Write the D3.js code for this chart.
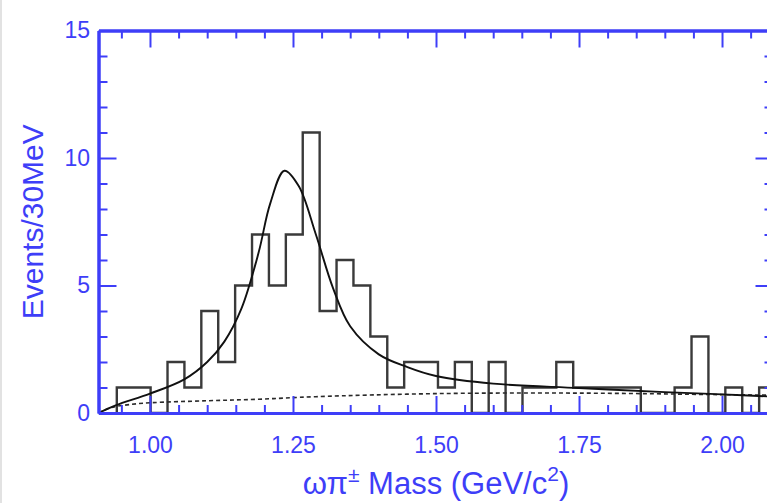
<!DOCTYPE html>
<html>
<head>
<meta charset="utf-8">
<script src="https://cdn.jsdelivr.net/npm/d3@7"></script>
<style>
body { margin: 0; background: #fff; }
.axis path, .axis line { stroke: #3e3ef8; }
.axis text { fill: #3e3ef8; font-family: "Liberation Sans", Arial, sans-serif; font-size: 23px; }
.hist { fill: none; stroke: #3a3a3a; stroke-width: 2.4; }
.fit { fill: none; stroke: #111; stroke-width: 1.9; }
.bkg { fill: none; stroke: #2a2a2a; stroke-width: 1.6; stroke-dasharray: 4 3; }
.title { fill: #3e3ef8; font-family: "Liberation Sans", Arial, sans-serif; }
</style>
</head>
<body>
<script>
// histogram: counts per 30 MeV bin, first bin starts at binStart (GeV)
var binStart = 0.942;
var binWidth = 0.02955;
var counts = [1, 1, 0, 2, 1, 4, 2, 5, 7, 5, 7, 11, 4, 6, 5, 3, 1, 2, 2, 1,
              2, 0, 2, 0, 1, 1, 2, 1, 1, 1, 1, 0, 0, 1, 3, 0, 1, 0, 1];

// fit curve (mass, events)
var fitMass   = [0.91, 0.94, 1.00, 1.06, 1.10, 1.13, 1.16, 1.19, 1.21, 1.235, 1.26, 1.29, 1.32, 1.35, 1.40, 1.45, 1.50, 1.60, 1.75, 1.90, 2.00, 2.09];
var fitEvents = [0.0, 0.3, 0.76, 1.32, 2.0, 2.8, 4.1, 6.3, 8.2, 9.5, 8.9, 7.0, 4.9, 3.4, 2.3, 1.8, 1.45, 1.15, 0.98, 0.82, 0.73, 0.64];

// background (dashed)
var bkgMass   = [0.91, 0.93, 0.96, 1.00, 1.10, 1.19, 1.29, 1.50, 1.75, 2.00, 2.09];
var bkgEvents = [0.0, 0.2, 0.32, 0.4, 0.48, 0.54, 0.64, 0.76, 0.78, 0.72, 0.70];

var xMajor = [1.00, 1.25, 1.50, 1.75, 2.00];
var xMinor = [0.95, 1.05, 1.10, 1.15, 1.20, 1.30, 1.35, 1.40, 1.45, 1.55, 1.60, 1.65, 1.70, 1.80, 1.85, 1.90, 1.95, 2.05];
var yMajor = [0, 5, 10, 15];
var yMinor = [1, 2, 3, 4, 6, 7, 8, 9, 11, 12, 13, 14];

var W = 767, H = 503;
var x = d3.scaleLinear().domain([0.91, 2.09]).range([98.5, 773.5]);
var y = d3.scaleLinear().domain([0, 15]).range([413, 30.5]);

var svg = d3.select("body").append("svg")
    .attr("width", W)
    .attr("height", H);

// faint frame on the left edge
svg.append("rect").attr("x", 0).attr("y", 0).attr("width", 2).attr("height", H).attr("fill", "#e2e2e2");

svg.append("clipPath").attr("id", "plot")
  .append("rect")
    .attr("x", x.range()[0]).attr("y", y.range()[1])
    .attr("width", x.range()[1] - x.range()[0])
    .attr("height", y.range()[0] - y.range()[1]);

var g = svg.append("g").attr("clip-path", "url(#plot)");

// histogram outline as a step path
var pts = [[x(binStart), y(0)]];
counts.forEach(function(c, i) {
  var x0 = x(binStart + i * binWidth), x1 = x(binStart + (i + 1) * binWidth);
  pts.push([x0, y(c)]);
  pts.push([x1, y(c)]);
});
pts.push([x(binStart + counts.length * binWidth), y(0)]);
var histPath = "M" + pts[0][0] + "," + pts[0][1];
for (var i = 1; i < pts.length; i++) histPath += "L" + pts[i][0] + "," + pts[i][1];
g.append("path").attr("class", "hist").attr("d", histPath);

var line = d3.line()
    .x(function(d) { return x(d[0]); })
    .y(function(d) { return y(d[1]); })
    .curve(d3.curveCatmullRom.alpha(0.5));

g.append("path").attr("class", "bkg")
    .attr("d", line(d3.zip(bkgMass, bkgEvents)));
g.append("path").attr("class", "fit")
    .attr("d", line(d3.zip(fitMass, fitEvents)));

// axes, ticks pointing inward on all four sides
function styleAxis(sel, tw) {
  sel.select(".domain").attr("stroke-width", 3);
  sel.selectAll(".tick line").attr("stroke-width", tw);
}

svg.append("g").attr("class", "axis")
    .attr("transform", "translate(0," + y(0) + ")")
    .call(d3.axisBottom(x).tickValues(xMinor).tickSizeInner(-8).tickSizeOuter(0).tickFormat(""))
    .call(styleAxis, 2);
svg.append("g").attr("class", "axis")
    .attr("transform", "translate(0," + y(0) + ")")
    .call(d3.axisBottom(x).tickValues(xMajor).tickSizeInner(-17).tickSizeOuter(0)
      .tickPadding(23.5).tickFormat(d3.format(".2f")))
    .call(styleAxis, 2);

svg.append("g").attr("class", "axis")
    .attr("transform", "translate(0," + y(15) + ")")
    .call(d3.axisTop(x).tickValues(xMinor).tickSizeInner(-8).tickSizeOuter(0).tickFormat(""))
    .call(styleAxis, 2);
svg.append("g").attr("class", "axis")
    .attr("transform", "translate(0," + y(15) + ")")
    .call(d3.axisTop(x).tickValues(xMajor).tickSizeInner(-17).tickSizeOuter(0).tickFormat(""))
    .call(styleAxis, 2);

svg.append("g").attr("class", "axis")
    .attr("transform", "translate(" + x(0.91) + ",0)")
    .call(d3.axisLeft(y).tickValues(yMinor).tickSizeInner(-9).tickSizeOuter(0).tickFormat(""))
    .call(styleAxis, 2);
svg.append("g").attr("class", "axis")
    .attr("transform", "translate(" + x(0.91) + ",0)")
    .call(d3.axisLeft(y).tickValues(yMajor).tickSizeInner(-18).tickSizeOuter(0).tickPadding(8.5).tickFormat(d3.format("d")))
    .call(styleAxis, 2);

svg.append("g").attr("class", "axis")
    .attr("transform", "translate(" + x(2.09) + ",0)")
    .call(d3.axisRight(y).tickValues(yMinor).tickSizeInner(-9).tickSizeOuter(0).tickFormat(""))
    .call(styleAxis, 2);
svg.append("g").attr("class", "axis")
    .attr("transform", "translate(" + x(2.09) + ",0)")
    .call(d3.axisRight(y).tickValues(yMajor).tickSizeInner(-18).tickSizeOuter(0).tickFormat(""))
    .call(styleAxis, 2);

// axis titles
var xt = svg.append("text").attr("class", "title")
    .attr("font-size", "31px")
    .attr("x", (x.range()[0] + x.range()[1]) / 2)
    .attr("y", 494)
    .attr("text-anchor", "middle");
xt.append("tspan").text("ωπ");
xt.append("tspan").attr("font-size", "21px").attr("dy", -12).text("±");
xt.append("tspan").attr("dy", 12).text(" Mass (GeV/c");
xt.append("tspan").attr("font-size", "21px").attr("dy", -13).text("2");
xt.append("tspan").attr("dy", 13).text(")");

svg.append("text").attr("class", "title")
    .attr("font-size", "30px")
    .attr("transform", "translate(43," + ((y.range()[0] + y.range()[1]) / 2) + ") rotate(-90)")
    .attr("text-anchor", "middle")
    .text("Events/30MeV");
</script>
</body>
</html>
